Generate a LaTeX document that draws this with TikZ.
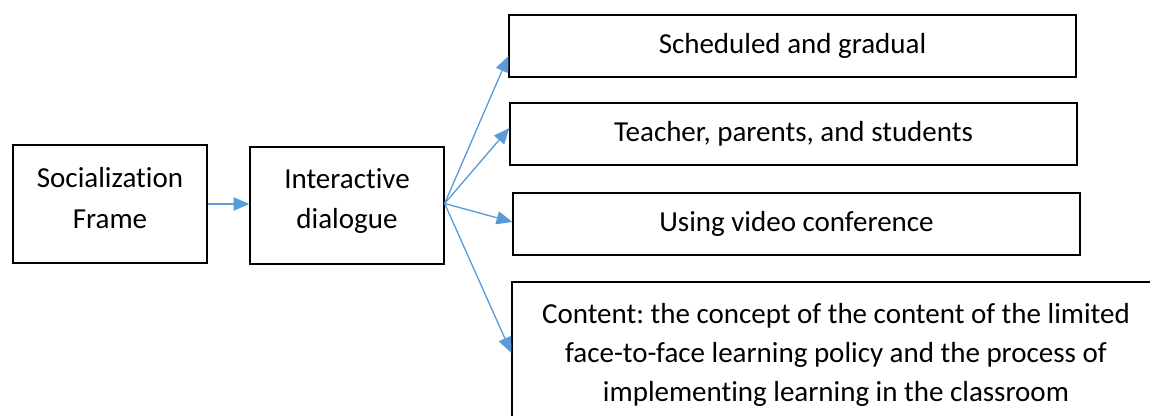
\documentclass[tikz,border=0pt]{standalone}
\usepackage{fontspec}
\setmainfont{Carlito}[Ligatures={NoCommon}]
\usetikzlibrary{arrows.meta,calc}
\definecolor{linkblue}{HTML}{5B9BD5}
\frenchspacing
\begin{document}
\begin{tikzpicture}[x=0.02cm,y=-0.02cm,
  box/.style={draw=black, line width=0.75pt, align=center, inner sep=0pt,
    font=\fontsize{16.5}{23.2}\selectfont},
  link/.style={draw=linkblue, line width=0.75pt,
    -{Triangle[length=9pt,width=7.5pt]}}]
\useasboundingbox (0,0) rectangle (1150,416);
\clip (0,0) rectangle (1150,416);

% left chain
\node[box, minimum width=3.88cm, minimum height=2.36cm, text depth=7pt]
  (frame) at (110,204) {Socialization\\Frame};
\node[box, minimum width=3.88cm, minimum height=2.34cm, text depth=8pt]
  (dialog) at (347,205.5) {Interactive\\dialogue};

% branches
\node[box, minimum width=11.34cm, minimum height=1.24cm] (sched) at (792.5,46)
  {Scheduled and gradual};
\node[box, minimum width=11.34cm, minimum height=1.24cm] (people) at (793.5,134)
  {Teacher, parents, and students};
\node[box, minimum width=11.34cm, minimum height=1.24cm] (video) at (796.5,224)
  {Using video conference};
\node[box, minimum width=12.96cm, minimum height=2.92cm,
  font=\fontsize{16.5}{22.4}\selectfont]
  (content) at (836,355)
  {Content: the concept of the content of the limited\\
   face-to-face learning policy and the process of\\
   implementing learning in the classroom};

% connectors
\draw[link] (frame.east) -- (frame.east -| dialog.west);
\coordinate (hub) at ($(dialog.east)+(0,-2)$);
\draw[link] (hub) -- ($(sched.west)+(0,10)$);
\draw[link] (hub) -- ($(people.west)+(0,-6)$);
\draw[link] (hub) -- ($(video.west)+(0,-2)$);
\draw[link] (hub) -- ($(content.west)+(0,-2)$);
\end{tikzpicture}
\end{document}
